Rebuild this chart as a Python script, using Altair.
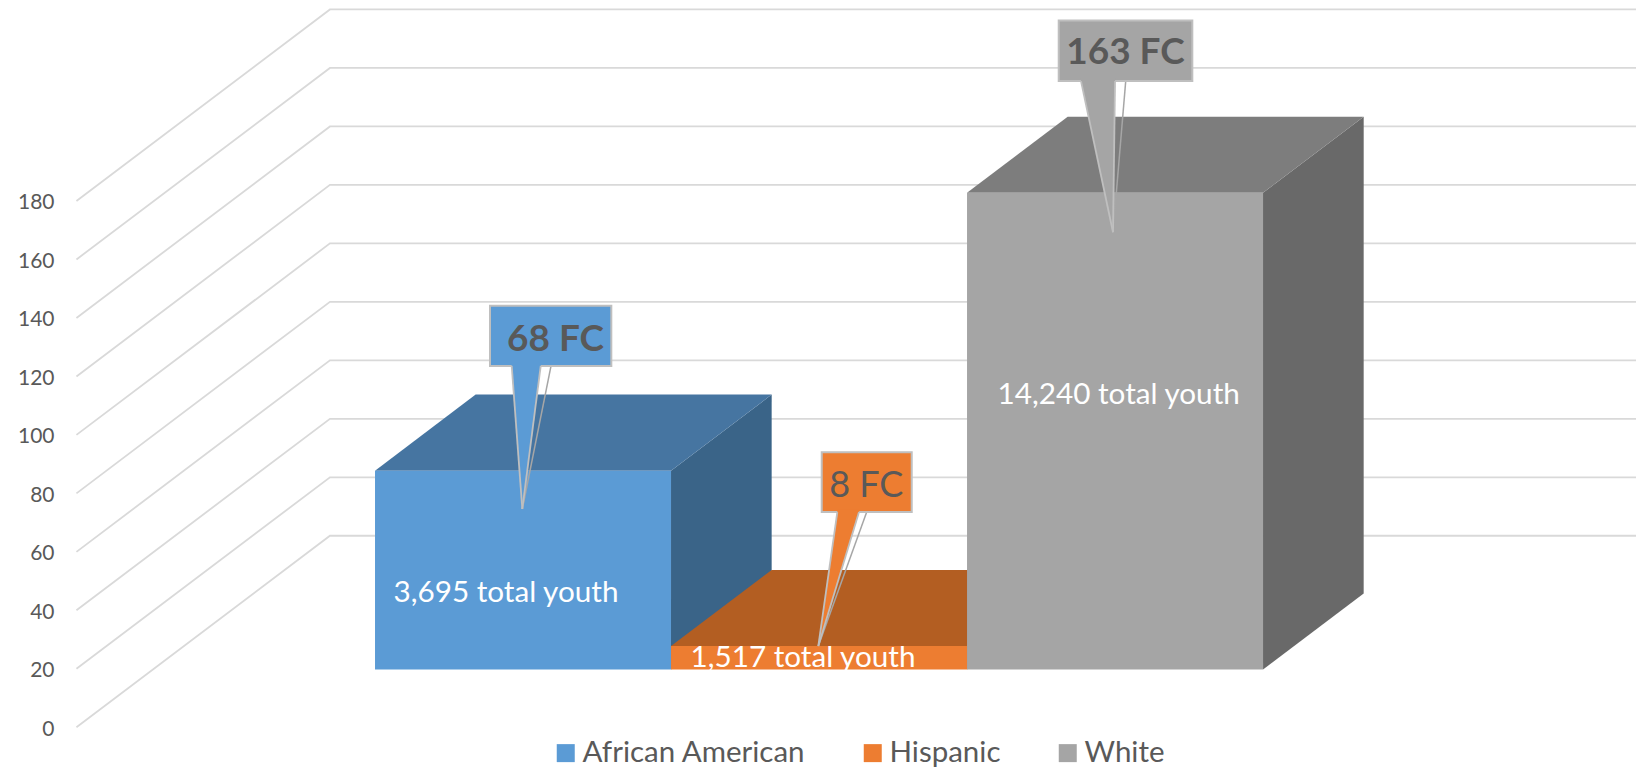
import altair as alt
import pandas as pd

# ---- chart values -------------------------------------------------------
races = ["African American", "Hispanic", "White"]
fc_counts = [68, 8, 163]
fc_labels = ["68 FC", "8 FC", "163 FC"]
fc_weights = ["bold", "normal", "bold"]
youth_labels = ["3,695 total youth", "1,517 total youth", "14,240 total youth"]
y_ticks = [0, 20, 40, 60, 80, 100, 120, 140, 160, 180]

# label centres, read in bar units (x) and value units (y)
youth_x = [0.4426, 1.446, 2.5125]
youth_y = [45.8, 23.7, 113.6]

# call-out boxes and pointers, in bar units (x) and value units (y)
box_x = [0.3885, 1.5091, 2.3098]
box_x2 = [0.7983, 1.8132, 2.7611]
box_y = [123.6, 73.63, 221.0]
box_y2 = [144.2, 94.05, 241.7]
pointer_left = [0.4618, 1.5618, 2.3851]
pointer_right = [0.5598, 1.6351, 2.5]
tip_x = [0.4976, 1.4976, 2.4932]
tip_y = [74.66, 27.8, 169.3]
leader_x = [0.5946, 1.6611, 2.5361]

# ---- styles --------------------------------------------------------------
front_colors = ["#5B9BD5", "#ED7D31", "#A5A5A5"]
top_colors = ["#4675A1", "#B35E22", "#7D7D7D"]
side_colors = ["#3A6488", "#B35E22", "#696969"]
text_gray = "#595959"
font = "Lato"

# ---- 3-D projection, in data units --------------------------------------
DEPTH_X = 0.8564     # bar units across the whole floor depth
DEPTH_Y = 65.5       # value units across the whole floor depth
BAR_FRONT = 0.302    # share of the floor depth in front of the bars
BAR_DEPTH = 0.397    # share of the floor depth the bars occupy
WALL_U = -0.75
RIGHT_U = 4.26


def px(u, d):
    return u + (d - BAR_FRONT) * DEPTH_X


def py(v, d):
    return v + d * DEPTH_Y


x_scale = alt.Scale(domain=[-1.2399, RIGHT_U], nice=False, zero=False)
y_scale = alt.Scale(domain=[-13.58, 246.0], nice=False, zero=False)
y_axis = alt.Axis(
    values=y_ticks, domain=False, ticks=False, grid=False, title=None,
    labelFontSize=21, labelColor=text_gray, labelFont=font, labelPadding=-46,
    labelOffset=2,
)
X = lambda f: alt.X(f, type="quantitative", scale=x_scale, axis=None)
Y = lambda f: alt.Y(f, type="quantitative", scale=y_scale, axis=y_axis)

# ---- walls ---------------------------------------------------------------
grid_rows = []
for t in y_ticks:
    grid_rows.append(dict(t=t, o=0, x=px(WALL_U, 0), y=py(t, 0)))
    grid_rows.append(dict(t=t, o=1, x=px(WALL_U, 1), y=py(t, 1)))
    grid_rows.append(dict(t=t, o=2, x=RIGHT_U, y=py(t, 1)))
grid = alt.Chart(pd.DataFrame(grid_rows)).mark_line(
    color="#D9D9D9", strokeWidth=1.8, clip=True
).encode(
    x=X("x"),
    y=Y("y"),
    detail="t:N",
    order="o:Q",
)

layers = [grid]

# ---- bars ----------------------------------------------------------------
d0, d1 = BAR_FRONT, BAR_FRONT + BAR_DEPTH
for i, v in enumerate(fc_counts):
    top = pd.DataFrame(
        [
            dict(y=py(v, d0), x=px(i, d0), x2=px(i + 1, d0)),
            dict(y=py(v, d1), x=px(i, d1), x2=px(i + 1, d1)),
        ]
    )
    side = pd.DataFrame(
        [
            dict(x=px(i + 1, d0), y=py(0, d0), y2=py(v, d0)),
            dict(x=px(i + 1, d1), y=py(0, d1), y2=py(v, d1)),
        ]
    )
    layers.append(
        alt.Chart(side).mark_area(color=side_colors[i]).encode(
            x=X("x"), y=Y("y"), y2="y2:Q"
        )
    )
    layers.append(
        alt.Chart(top).mark_area(orient="horizontal", color=top_colors[i]).encode(
            y=Y("y"), x=X("x"), x2="x2:Q"
        )
    )

fronts = pd.DataFrame(
    dict(
        race=races,
        x=[px(i, d0) for i in range(3)],
        x2=[px(i + 1, d0) for i in range(3)],
        y=[py(0, d0)] * 3,
        y2=[py(v, d0) for v in fc_counts],
    )
)
layers.append(
    alt.Chart(fronts).mark_rect().encode(
        x=X("x"), x2="x2:Q", y=Y("y"), y2="y2:Q",
        color=alt.Color(
            "race:N",
            sort=None,
            scale=alt.Scale(domain=races, range=front_colors),
            legend=alt.Legend(
                title=None, orient="none", legendX=543, legendY=730,
                direction="horizontal", columns=3, columnPadding=52,
                symbolType="square", symbolSize=324, symbolStrokeWidth=0,
                labelFont=font, labelFontSize=29.5, labelColor=text_gray,
                labelLimit=400, labelOffset=2,
            ),
        ),
    )
)

# ---- youth labels --------------------------------------------------------
layers.append(
    alt.Chart(pd.DataFrame(dict(x=youth_x, y=youth_y, t=youth_labels)))
    .mark_text(font=font, fontSize=29.7, color="white")
    .encode(x=X("x"), y=Y("y"), text="t:N")
)

# ---- call-outs -----------------------------------------------------------
for i in range(3):
    leader = pd.DataFrame(
        [dict(x=leader_x[i], y=box_y[i], o=0), dict(x=tip_x[i], y=tip_y[i], o=1)]
    )
    layers.append(
        alt.Chart(leader).mark_line(color="#A6A6A6", strokeWidth=1.5).encode(
            x=X("x"), y=Y("y"), order="o:Q"
        )
    )
    box = pd.DataFrame(
        [dict(x=box_x[i], x2=box_x2[i], y=box_y[i], y2=box_y2[i])]
    )
    layers.append(
        alt.Chart(box).mark_rect(
            color=front_colors[i], stroke="#BFBFBF", strokeWidth=2
        ).encode(x=X("x"), x2="x2:Q", y=Y("y"), y2="y2:Q")
    )
    lift = (tip_x[i] - pointer_left[i]) / (tip_y[i] - box_y[i]) * 0.9
    pointer = pd.DataFrame(
        [
            dict(y=box_y[i] + 0.9, x=pointer_left[i] + lift, x2=pointer_right[i]
                 + (tip_x[i] - pointer_right[i]) / (tip_y[i] - box_y[i]) * 0.9),
            dict(y=tip_y[i], x=tip_x[i], x2=tip_x[i]),
        ]
    )
    layers.append(
        alt.Chart(pointer).mark_area(orient="horizontal", color=front_colors[i]).encode(
            y=Y("y"), x=X("x"), x2="x2:Q"
        )
    )
    for edge_x in (pointer_left[i], pointer_right[i]):
        edge = pd.DataFrame(
            [dict(x=edge_x, y=box_y[i], o=0), dict(x=tip_x[i], y=tip_y[i], o=1)]
        )
        layers.append(
            alt.Chart(edge).mark_line(color="#BFBFBF", strokeWidth=1.8).encode(
                x=X("x"), y=Y("y"), order="o:Q"
            )
        )
    label = pd.DataFrame(
        [dict(x=(box_x[i] + box_x2[i]) / 2 + [0.0165, -0.0015, 0][i],
              y=(box_y[i] + box_y2[i]) / 2 - [1.4, 1.4, 0.8][i], t=fc_labels[i])]
    )
    layers.append(
        alt.Chart(label).mark_text(
            font=font, fontSize=[37, 36, 37][i], fontWeight=fc_weights[i],
            color=text_gray,
        ).encode(x=X("x"), y=Y("y"), text="t:N")
    )

chart = (
    alt.layer(*layers)
    .properties(
        width=1628, height=759, padding=0,
        autosize=alt.AutoSizeParams(type="none"),
        background="white",
    )
    .configure_view(stroke=None)
)

chart.save("out.html", embed_options={"renderer": "svg", "actions": False})
